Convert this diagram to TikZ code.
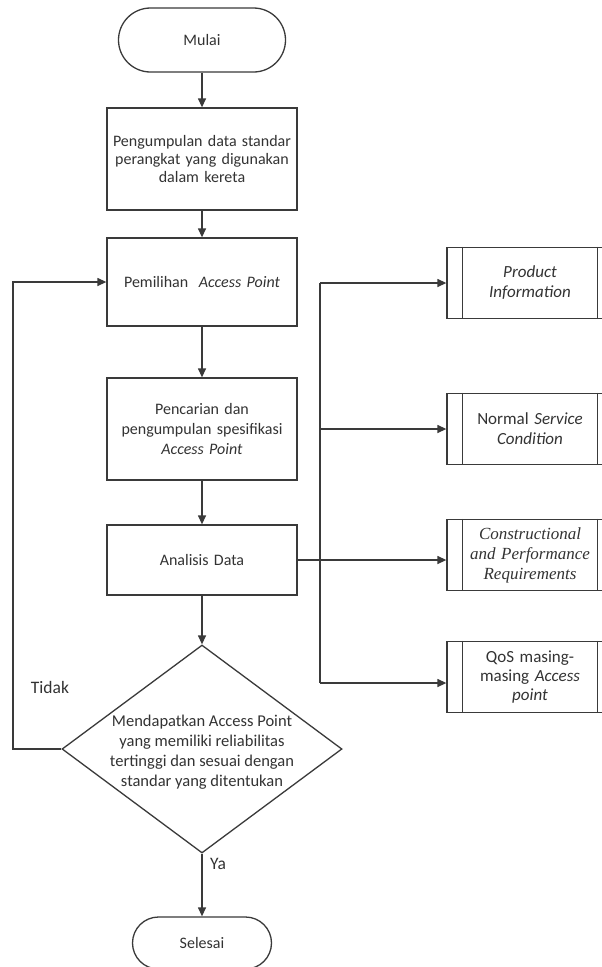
\documentclass[tikz,border=0pt]{standalone}
\usepackage{fontspec}
\setmainfont{Carlito}
\newfontfamily\serifit{Liberation Serif}
\usetikzlibrary{arrows.meta,shapes.geometric}
\definecolor{lc}{HTML}{3A3A3A}
\definecolor{tc}{HTML}{333333}
\begin{document}
\begin{tikzpicture}[x=1pt,y=-1pt,
  every node/.style={text=tc,font=\fontsize{16}{18}\selectfont},
  ln/.style={draw=lc,line width=1.3pt},
  arr/.style={ln,-{Triangle[length=9pt,width=8pt]}},
  proc/.style={ln,rectangle,minimum width=190pt,text width=188pt,align=center,inner sep=0pt},
  term/.style={ln,rectangle,rounded corners=26pt,inner sep=0pt},
  sub/.style={ln,rectangle,minimum width=166pt,minimum height=71pt,text width=134pt,align=center,inner sep=0pt},
  lbl/.style={inner sep=0pt}]
\useasboundingbox (0,0) rectangle (602,967);
\fill[white] (0,0) rectangle (602,967);
% main column
\node[term,minimum width=167pt,minimum height=64pt,rounded corners=32pt] (start) at (202,40) {Mulai};
\node[proc,minimum height=102pt] (p1) at (202,159) {Pengumpulan data standar\\perangkat yang digunakan\\dalam kereta};
\node[proc,minimum height=88pt] (p2) at (202,282) {Pemilihan\ \ \textit{Access Point}};
\node[proc,minimum height=102pt,font=\fontsize{16}{20}\selectfont] (p3) at (202,429) {Pencarian dan\\pengumpulan spesifikasi\\\textit{Access Point}};
\node[proc,minimum height=70pt] (p4) at (202,560) {Analisis Data};
\node[ln,diamond,minimum width=280pt,minimum height=208pt,inner sep=0pt] (dec) at (202,749) {};
\node[lbl,align=center,font=\fontsize{16.5}{20}\selectfont] (dect) at (202,752) {Mendapatkan Access Point\\yang memiliki reliabilitas\\tertinggi dan sesuai dengan\\standar yang ditentukan};
\node[term,minimum width=139pt,minimum height=52pt] (end) at (202,943) {Selesai};
% labels
\node[lbl,font=\fontsize{17.5}{20}\selectfont] (tidak) at (50,687) {Tidak};
\node[lbl,font=\fontsize{17.5}{20}\selectfont] (ya) at (218,864) {Ya};
% right boxes
\node[sub,font=\fontsize{17}{20}\selectfont] (r1) at (530,283) {\textit{Product\\Information}};
\node[sub,font=\fontsize{17}{20}\selectfont] (r2) at (530,429) {Normal \textit{Service\\Condition}};
\node[sub,font=\serifit\itshape\fontsize{17}{20}\selectfont] (r3) at (530,555) {Constructional\\and Performance\\Requirements};
\node[sub,font=\fontsize{17}{19}\selectfont] (r4) at (530,677) {QoS masing-\\masing \textit{Access\\point}};
\foreach \r in {r1,r2,r3,r4}{
  \draw[ln] ([xshift=16pt]\r.north west) -- ([xshift=16pt]\r.south west);
  \draw[ln] ([xshift=-16pt]\r.north east) -- ([xshift=-16pt]\r.south east);
}
% connectors
\draw[arr] (start) -- (p1);
\draw[arr] (p1) -- (p2);
\draw[arr] (p2) -- (p3);
\draw[arr] (p3) -- (p4);
\draw[arr] (p4) -- (dec.north);
\draw[arr] (dec.south) -- (end);
\coordinate (lc1) at (13,749);
\coordinate (lc2) at (13,282);
\draw[arr] (dec.west) -- (lc1) -- (lc2) -- (p2.west);
\coordinate (bt) at (320,283);
\coordinate (bb) at (320,683);
\draw[ln] (bt) -- (bb);
\draw[arr] (bt) -- (r1.west |- bt);
\draw[arr] (bt |- r2.west) -- (r2.west);
\draw[arr] (p4.east) -- (r3.west |- p4.east);
\draw[arr] (bb) -- (r4.west |- bb);
\end{tikzpicture}
\end{document}
